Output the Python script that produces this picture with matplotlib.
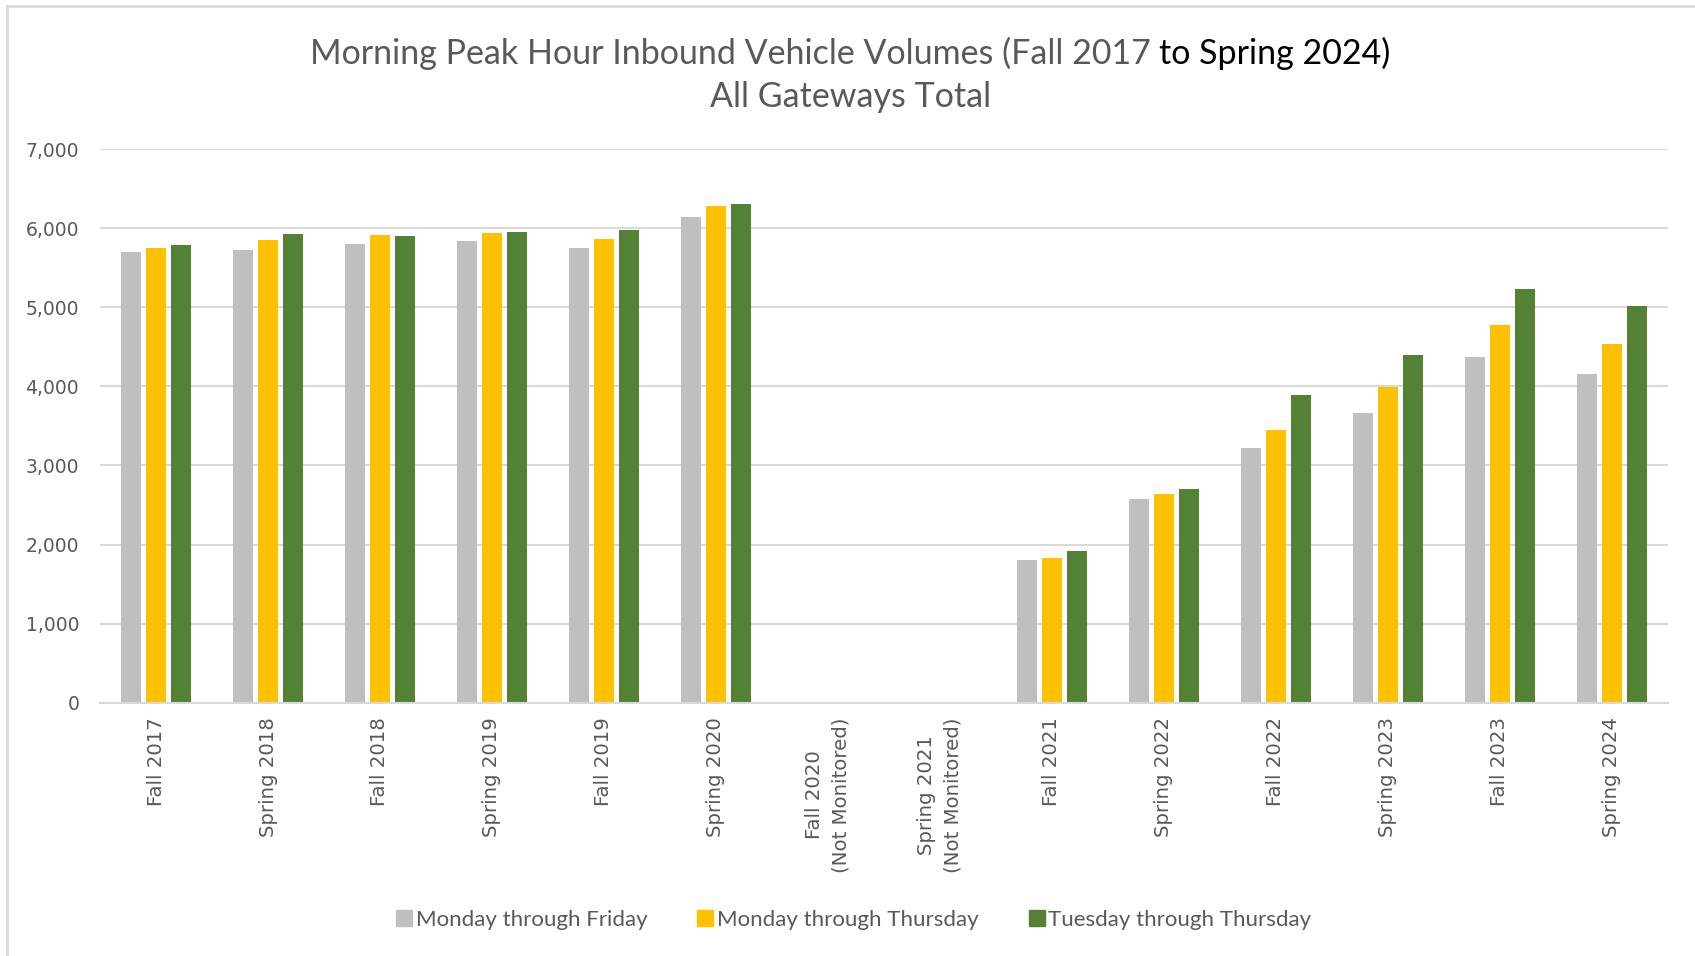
"""Morning peak hour inbound vehicle volumes, all gateways, by survey season."""

import matplotlib.pyplot as plt
import numpy as np
from matplotlib.lines import Line2D
from matplotlib.ticker import FuncFormatter, MultipleLocator

seasons = [
    "Fall 2017", "Spring 2018", "Fall 2018", "Spring 2019", "Fall 2019",
    "Spring 2020", "Fall 2020\n(Not Monitored)", "Spring 2021\n(Not Monitored)",
    "Fall 2021", "Spring 2022", "Fall 2022", "Spring 2023", "Fall 2023",
    "Spring 2024",
]
# seasons that were not monitored have no counts
mon_fri = [5694, 5729, 5799, 5843, 5751, 6140, None, None,
           1806, 2580, 3223, 3659, 4370, 4154]
mon_thu = [5751, 5852, 5921, 5939, 5860, 6284, None, None,
           1836, 2640, 3443, 3993, 4780, 4535]
tue_thu = [5786, 5930, 5908, 5952, 5974, 6306, None, None,
           1916, 2699, 3892, 4391, 5233, 5013]

series_names = ["Monday through Friday", "Monday through Thursday",
                "Tuesday through Thursday"]
series_colors = ["#BFBFBF", "#FFC000", "#548235"]

GRAY_TEXT = "#595959"
GRID = "#D9D9D9"

fig = plt.figure(figsize=(16.95, 9.56), dpi=100)
ax = fig.add_axes([100 / 1695, 1 - 702.7 / 956, 1568 / 1695, (702.7 - 149.2) / 956])

x = np.arange(len(seasons))
width = 0.175
offset = 0.223
for i, (vals, name, color) in enumerate(zip([mon_fri, mon_thu, tue_thu],
                                             series_names, series_colors)):
    heights = np.array([np.nan if v is None else v for v in vals], dtype=float)
    ax.bar(x + (i - 1) * offset, heights, width, color=color, label=name, zorder=3)

ax.set_xlim(-0.5, len(seasons) - 0.5)
ax.set_ylim(0, 7000)
ax.yaxis.set_major_locator(MultipleLocator(1000))
ax.yaxis.set_major_formatter(FuncFormatter(lambda v, _: f"{v:,.0f}"))
ax.grid(axis="y", color=GRID, linewidth=1.5, zorder=0)
for side in ["top", "right", "left"]:
    ax.spines[side].set_visible(False)
ax.spines["bottom"].set_color(GRID)
ax.spines["bottom"].set_linewidth(1.5)
ax.spines["bottom"].set_zorder(4)

ax.set_xticks(x)
ax.set_xticklabels(seasons, rotation=90, ha="center", va="top",
                   multialignment="center", linespacing=1.5)
ax.tick_params(axis="x", length=0, pad=10.5, labelsize=14.2, labelcolor=GRAY_TEXT)
ax.tick_params(axis="y", length=0, pad=15, labelsize=13.5, labelcolor=GRAY_TEXT)

# two-tone first title line, centred as a whole
title_font = dict(family="Lato", fontsize=24.5, va="center")
renderer = fig.canvas.get_renderer()
part_a = fig.text(0, 1 - 53 / 956, "Morning Peak Hour Inbound Vehicle Volumes (Fall 2017 ",
                  color=GRAY_TEXT, ha="left", **title_font)
part_b = fig.text(0, 1 - 53 / 956, "to Spring 2024)", color="black", ha="left", **title_font)
wa = part_a.get_window_extent(renderer).width / fig.bbox.width
wb = part_b.get_window_extent(renderer).width / fig.bbox.width
start = 0.5 - (wa + wb) / 2 + 0.0015
part_a.set_x(start)
part_b.set_x(start + wa)
fig.text(0.502, 1 - 97 / 956, "All Gateways Total", color=GRAY_TEXT, ha="center",
         **title_font)

handles = [Line2D([], [], marker="s", linestyle="none", markersize=11,
                  markerfacecolor=c, markeredgecolor=c) for c in series_colors]
leg = fig.legend(handles, series_names, loc="center", bbox_to_anchor=(0.5035, 1 - 920 / 956),
                 ncol=3, frameon=False, handlelength=0.8, handletextpad=0.13,
                 columnspacing=2.2, prop={"family": "Lato", "size": 16})
for t in leg.get_texts():
    t.set_color(GRAY_TEXT)

# thin frame along the top and left edges of the chart area
fig.add_artist(Line2D([6.5 / 1695, 6.5 / 1695], [0, 1 - 6 / 956], transform=fig.transFigure,
                      color=GRID, linewidth=2))
fig.add_artist(Line2D([6.5 / 1695, 1], [1 - 6 / 956, 1 - 6 / 956], transform=fig.transFigure,
                      color=GRID, linewidth=2))

fig.savefig("out.png", dpi=100, facecolor="white")
